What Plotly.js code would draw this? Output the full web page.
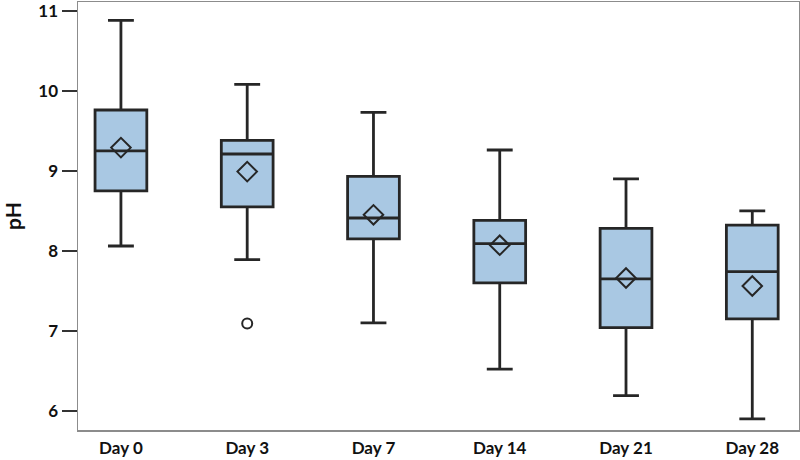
<!DOCTYPE html>
<html>
<head>
<meta charset="utf-8">
<script src="https://cdn.plot.ly/plotly-3.0.1.min.js"></script>
<style>html,body{margin:0;padding:0;background:#fff;}#chart{width:800px;height:460px;}</style>
</head>
<body>
<div id="chart"></div>
<script>
const days = ["Day 0", "Day 3", "Day 7", "Day 14", "Day 21", "Day 28"];
const lowerWhisker = [8.06, 7.89, 7.10, 6.52, 6.19, 5.90];
const q1Values = [8.75, 8.55, 8.15, 7.60, 7.04, 7.15];
const medianValues = [9.25, 9.21, 8.41, 8.09, 7.65, 7.74];
const q3Values = [9.76, 9.38, 8.93, 8.38, 8.28, 8.32];
const upperWhisker = [10.88, 10.08, 9.73, 9.26, 8.90, 8.50];
const meanValues = [9.29, 8.99, 8.45, 8.07, 7.66, 7.56];
const outlierDays = ["Day 3"];
const outlierValues = [7.09];
const yTicks = [6, 7, 8, 9, 10, 11];

const lineColor = "#262626";
const fontFam = "Lato, 'Open Sans', sans-serif";

const traces = [
  {
    type: "box",
    x: days,
    q1: q1Values,
    median: medianValues,
    q3: q3Values,
    lowerfence: lowerWhisker,
    upperfence: upperWhisker,
    boxpoints: false,
    width: 0.41,
    whiskerwidth: 0.5,
    fillcolor: "#a9c8e3",
    line: {color: lineColor, width: 2.8},
    showlegend: false,
    hoverinfo: "skip"
  },
  {
    type: "scatter",
    mode: "markers",
    x: days,
    y: meanValues,
    marker: {symbol: "diamond-open", size: 15, color: lineColor, line: {width: 2, color: lineColor}},
    showlegend: false
  },
  {
    type: "scatter",
    mode: "markers",
    x: outlierDays,
    y: outlierValues,
    marker: {symbol: "circle-open", size: 10, color: lineColor, line: {width: 2, color: lineColor}},
    showlegend: false
  }
];

const layout = {
  width: 800,
  height: 460,
  margin: {l: 78, r: 1, t: 2, b: 30},
  paper_bgcolor: "#fff",
  plot_bgcolor: "#fff",
  font: {family: fontFam, color: "#111"},
  showlegend: false,
  xaxis: {
    type: "category",
    range: [-0.34, 5.37],
    showgrid: false,
    zeroline: false,
    showline: true,
    mirror: true,
    linecolor: "#8c8c8c",
    linewidth: 1.5,
    ticks: "",
    tickfont: {family: fontFam, size: 17, color: "#111", weight: "bold"},
    ticklabelstandoff: 2
  },
  yaxis: {
    range: [5.76, 11.11],
    tickvals: yTicks,
    ticktext: yTicks.map(String),
    showgrid: false,
    zeroline: false,
    showline: true,
    mirror: true,
    linecolor: "#8c8c8c",
    linewidth: 1.5,
    ticks: "outside",
    ticklen: 15,
    tickwidth: 1.5,
    tickcolor: "#333",
    ticklabeloverflow: "allow",
    tickfont: {family: fontFam, size: 17, color: "#111", weight: "bold"},
    title: {text: "pH", font: {family: fontFam, size: 21, color: "#111", weight: "bold"}, standoff: 12}
  }
};

Plotly.newPlot("chart", traces, layout, {displayModeBar: false, staticPlot: true});
</script>
</body>
</html>
